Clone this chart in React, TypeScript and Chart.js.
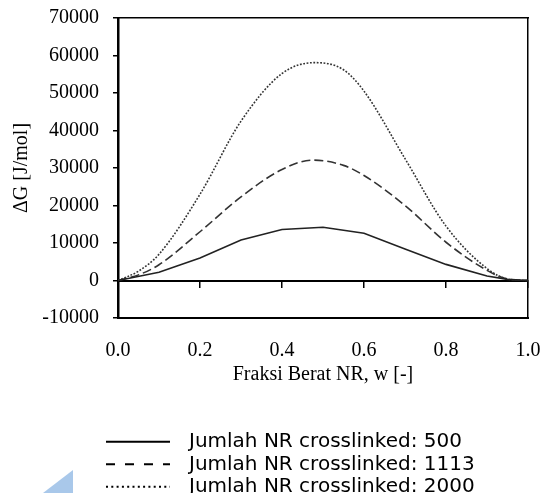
import React, { useEffect, useRef } from "react";
import { Chart, registerables } from "chart.js";

Chart.register(...registerables);

// ---- data ----
const seriesLabels = [
  "Jumlah NR crosslinked: 500",
  "Jumlah NR crosslinked: 1113",
  "Jumlah NR crosslinked: 2000",
];

const w500 = [0, 0.1, 0.2, 0.3, 0.4, 0.5, 0.6, 0.7, 0.8, 0.9, 0.95, 1.0];
const g500 = [0, 2200, 6000, 10800, 13600, 14200, 12600, 8400, 4300, 1200, 300, 0];

const w1113 = [0, 0.05, 0.1, 0.2, 0.3, 0.4, 0.475, 0.55, 0.6, 0.7, 0.8, 0.9, 0.95, 1.0];
const g1113 = [0, 1500, 4200, 13000, 22300, 29600, 32100, 30700, 28000, 20000, 10200, 2700, 400, 0];

const w2000 = [0, 0.05, 0.1, 0.2, 0.3, 0.4, 0.48, 0.55, 0.6, 0.7, 0.8, 0.9, 0.95, 1.0];
const g2000 = [0, 2500, 7000, 23000, 42500, 55200, 58100, 56200, 50500, 32500, 14500, 3200, 400, 0];

const xMin = 0;
const xMax = 1.0;
const xStep = 0.2;
const yMin = -10000;
const yMax = 70000;
const yStep = 10000;

const xTitle = "Fraksi Berat NR, w [-]";
const yTitle = "ΔG [J/mol]";

const serif = "'Liberation Serif', 'Times New Roman', serif";
const sans = "'DejaVu Sans', Verdana, sans-serif";

const toPoints = (xs: number[], ys: number[]) => xs.map((x, i) => ({ x, y: ys[i] }));

const zeroPad = (s: any) => {
  s.paddingTop = 0;
  s.paddingBottom = 0;
  s.paddingLeft = 0;
  s.paddingRight = 0;
};

const legendPlugin = {
  id: "lineLegend",
  afterDraw(chart: any) {
    const ctx = chart.ctx as CanvasRenderingContext2D;
    ctx.save();
    chart.data.datasets.forEach((ds: any, i: number) => {
      const y = 441.7 + i * 22.5;
      ctx.beginPath();
      ctx.setLineDash(ds.legendDash || []);
      ctx.lineWidth = 2;
      ctx.strokeStyle = "#000";
      ctx.moveTo(106, y);
      ctx.lineTo(170, y);
      ctx.stroke();
      ctx.setLineDash([]);
      ctx.font = `20px ${sans}`;
      ctx.fillStyle = "#000";
      ctx.textBaseline = "alphabetic";
      ctx.textAlign = "left";
      ctx.fillText(ds.label, 189, y + 5.5);
    });
    ctx.restore();
  },
};

export default function App() {
  const canvasRef = useRef<HTMLCanvasElement | null>(null);

  useEffect(() => {
    if (!canvasRef.current) return;
    const chart = new Chart(canvasRef.current, {
      type: "line",
      data: {
        datasets: [
          {
            label: seriesLabels[0],
            data: toPoints(w500, g500),
            borderColor: "#222",
            borderWidth: 1.6,
            pointRadius: 0,
            tension: 0,
            fill: false,
            legendDash: [],
          } as any,
          {
            label: seriesLabels[1],
            data: toPoints(w1113, g1113),
            borderColor: "#333",
            borderWidth: 1.6,
            borderDash: [9, 4],
            pointRadius: 0,
            cubicInterpolationMode: "monotone",
            fill: false,
            legendDash: [9, 10],
          } as any,
          {
            label: seriesLabels[2],
            data: toPoints(w2000, g2000),
            borderColor: "#333",
            borderWidth: 1.6,
            borderDash: [1.8, 1.6],
            pointRadius: 0,
            cubicInterpolationMode: "monotone",
            fill: false,
            legendDash: [2, 3.3],
          } as any,
        ],
      },
      options: {
        animation: false,
        responsive: true,
        maintainAspectRatio: false,
        layout: { padding: { left: 0, right: 15, top: 18, bottom: 105 } },
        plugins: {
          legend: { display: false },
          tooltip: { enabled: false },
        },
        scales: {
          x: {
            type: "linear",
            position: "bottom",
            min: xMin,
            max: xMax,
            ticks: {
              stepSize: xStep,
              padding: 21,
              color: "#000",
              font: { family: serif, size: 20 },
              callback: (v: any) => Number(v).toFixed(1),
              maxRotation: 0,
            },
            grid: { display: false, drawTicks: false },
            border: { display: true, color: "#000", width: 2 },
            title: {
              display: true,
              text: xTitle,
              color: "#000",
              font: { family: serif, size: 20 },
              padding: { top: 1, bottom: 1 },
            },
            afterFit: (s: any) => {
              s.height = 70;
              zeroPad(s);
            },
          },
          x2: {
            type: "linear",
            axis: "x",
            position: { y: 0 },
            min: xMin,
            max: xMax,
            ticks: { stepSize: xStep, display: false, color: "rgba(0,0,0,0)" },
            grid: { drawOnChartArea: false, drawTicks: true, tickLength: 6, color: "#000", lineWidth: 1.5 },
            border: { display: true, color: "#000", width: 2 },
            afterFit: (s: any) => {
              zeroPad(s);
            },
          } as any,
          xTop: {
            type: "linear",
            axis: "x",
            position: "top",
            min: xMin,
            max: xMax,
            ticks: { display: false },
            grid: { display: false, drawTicks: false },
            border: { display: true, color: "#000", width: 1.5 },
            afterFit: (s: any) => {
              s.height = 0;
              zeroPad(s);
            },
          } as any,
          y: {
            type: "linear",
            position: "left",
            min: yMin,
            max: yMax,
            ticks: {
              stepSize: yStep,
              padding: 14,
              color: "#000",
              font: { family: serif, size: 20 },
              callback: (v: any) => String(v),
            },
            grid: { drawOnChartArea: false, drawTicks: true, tickLength: 5, color: "#000", lineWidth: 1.5 },
            border: { display: true, color: "#000", width: 2.5 },
            title: {
              display: true,
              text: yTitle,
              color: "#000",
              font: { family: serif, size: 20 },
              padding: { top: 10, bottom: 0 },
            },
            afterFit: (s: any) => {
              s.width = 118;
              zeroPad(s);
            },
          },
          yRight: {
            type: "linear",
            axis: "y",
            position: "right",
            min: yMin,
            max: yMax,
            ticks: { display: false },
            grid: { display: false, drawTicks: false },
            border: { display: true, color: "#000", width: 1.5 },
            afterFit: (s: any) => {
              s.width = 0;
              zeroPad(s);
            },
          } as any,
        },
      } as any,
      plugins: [legendPlugin],
    });
    return () => chart.destroy();
  }, []);

  return (
    <div style={{ position: "absolute", left: 0, top: 0, width: 543, height: 493, background: "#fff" }}>
      <canvas ref={canvasRef} />
      <div
        style={{
          position: "absolute",
          left: 43,
          top: 470,
          width: 30,
          height: 23,
          background: "#a9c8ea",
          clipPath: "polygon(100% 0, 100% 100%, 0 100%)",
        }}
      />
    </div>
  );
}
